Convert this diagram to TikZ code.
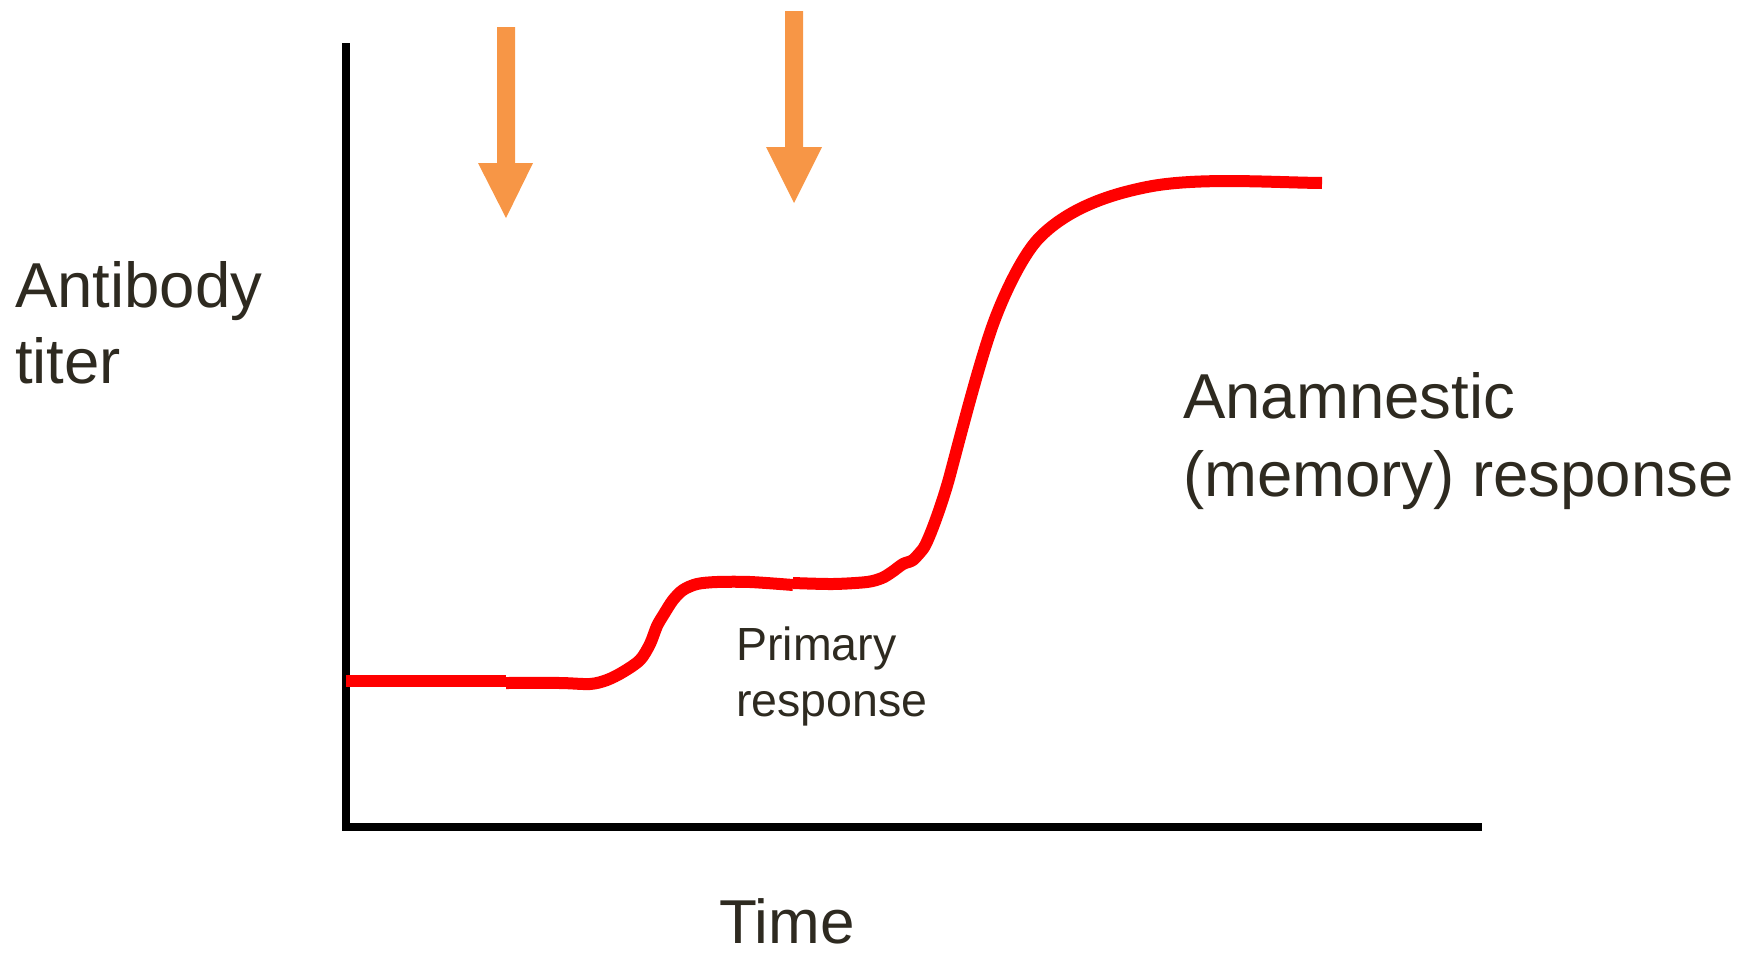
\documentclass[tikz,border=0pt]{standalone}
\usepackage{fontspec}
\setmainfont{Liberation Sans}
\definecolor{txt}{RGB}{46,42,32}
\definecolor{arroworange}{RGB}{247,150,70}
\definecolor{curvered}{RGB}{255,0,0}
\tikzset{
  axisline/.style={line width=7.5pt, black, line cap=butt},
  curveline/.style={line width=12pt, curvered, line cap=butt, line join=round},
  shotarrow/.style={fill=arroworange, draw=none},
  bigtext/.style={inner sep=0pt, anchor=base west, text=txt, font=\fontsize{63.5}{76}\selectfont},
  smalltext/.style={inner sep=0pt, anchor=base west, text=txt, font=\fontsize{46.5}{56}\selectfont},
}
\begin{document}
\begin{tikzpicture}[x=1pt,y=-1pt]
\useasboundingbox (0,0) rectangle (1740,953);

% axes
\coordinate (ytop) at (346,43);
\coordinate (origin) at (346,827);
\coordinate (xend) at (1482,827);
\draw[axisline] (ytop) -- (346,830.75);
\draw[axisline] (origin) -- (xend);

% injection arrows
\path[shotarrow] (497,27) -- (515,27) -- (515,163) -- (533,163) -- (506,218) -- (478,163) -- (497,163) -- cycle;
\path[shotarrow] (785,11) -- (803,11) -- (803,147) -- (822,147) -- (794,203) -- (766,147) -- (785,147) -- cycle;

% antibody curve
\draw[curveline] (346,681) -- (506,681);
\draw[curveline] plot[smooth, tension=0.5] coordinates {
  (506,683) (560,683) (590,684) (607,680) (623,672) (640,660) (650,644)
  (657,626) (664,614) (673,600) (683,590) (697,584) (717,582) (750,582) (793,585)};
\coordinate (q1) at (950,475);
\coordinate (q2) at (990,333);
\coordinate (q3) at (1040,237);
\coordinate (q4) at (1147,187);
\coordinate (cend) at (1322,183);
\draw[curveline] plot[smooth, tension=0.5] coordinates {
  (793,583) (833,584) (867,582) (882,578) (892,572) (903,564) (913,560) (923,549)}
  .. controls (929,541) and (944,498) .. (q1)
  .. controls (963,426) and (977,372) .. (q2)
  .. controls (1002,297) and (1023,254) .. (q3)
  .. controls (1070,207) and (1112,194) .. (q4)
  .. controls (1197,177) and (1272,182.5) .. (cend);

% labels
\node[bigtext] (ab1) at (15,307) {Antibody};
\node[bigtext] (ab2) at (15,383) {titer};
\node[bigtext] (an1) at (1183,418) {Anamnestic};
\node[bigtext] (an2) at (1183,496) {(memory) response};
\node[smalltext] (pr1) at (736,660) {Primary};
\node[smalltext] (pr2) at (736,716) {response};
\node[bigtext, font=\fontsize{62}{72}\selectfont] (time) at (719,943) {Time};
\end{tikzpicture}
\end{document}
